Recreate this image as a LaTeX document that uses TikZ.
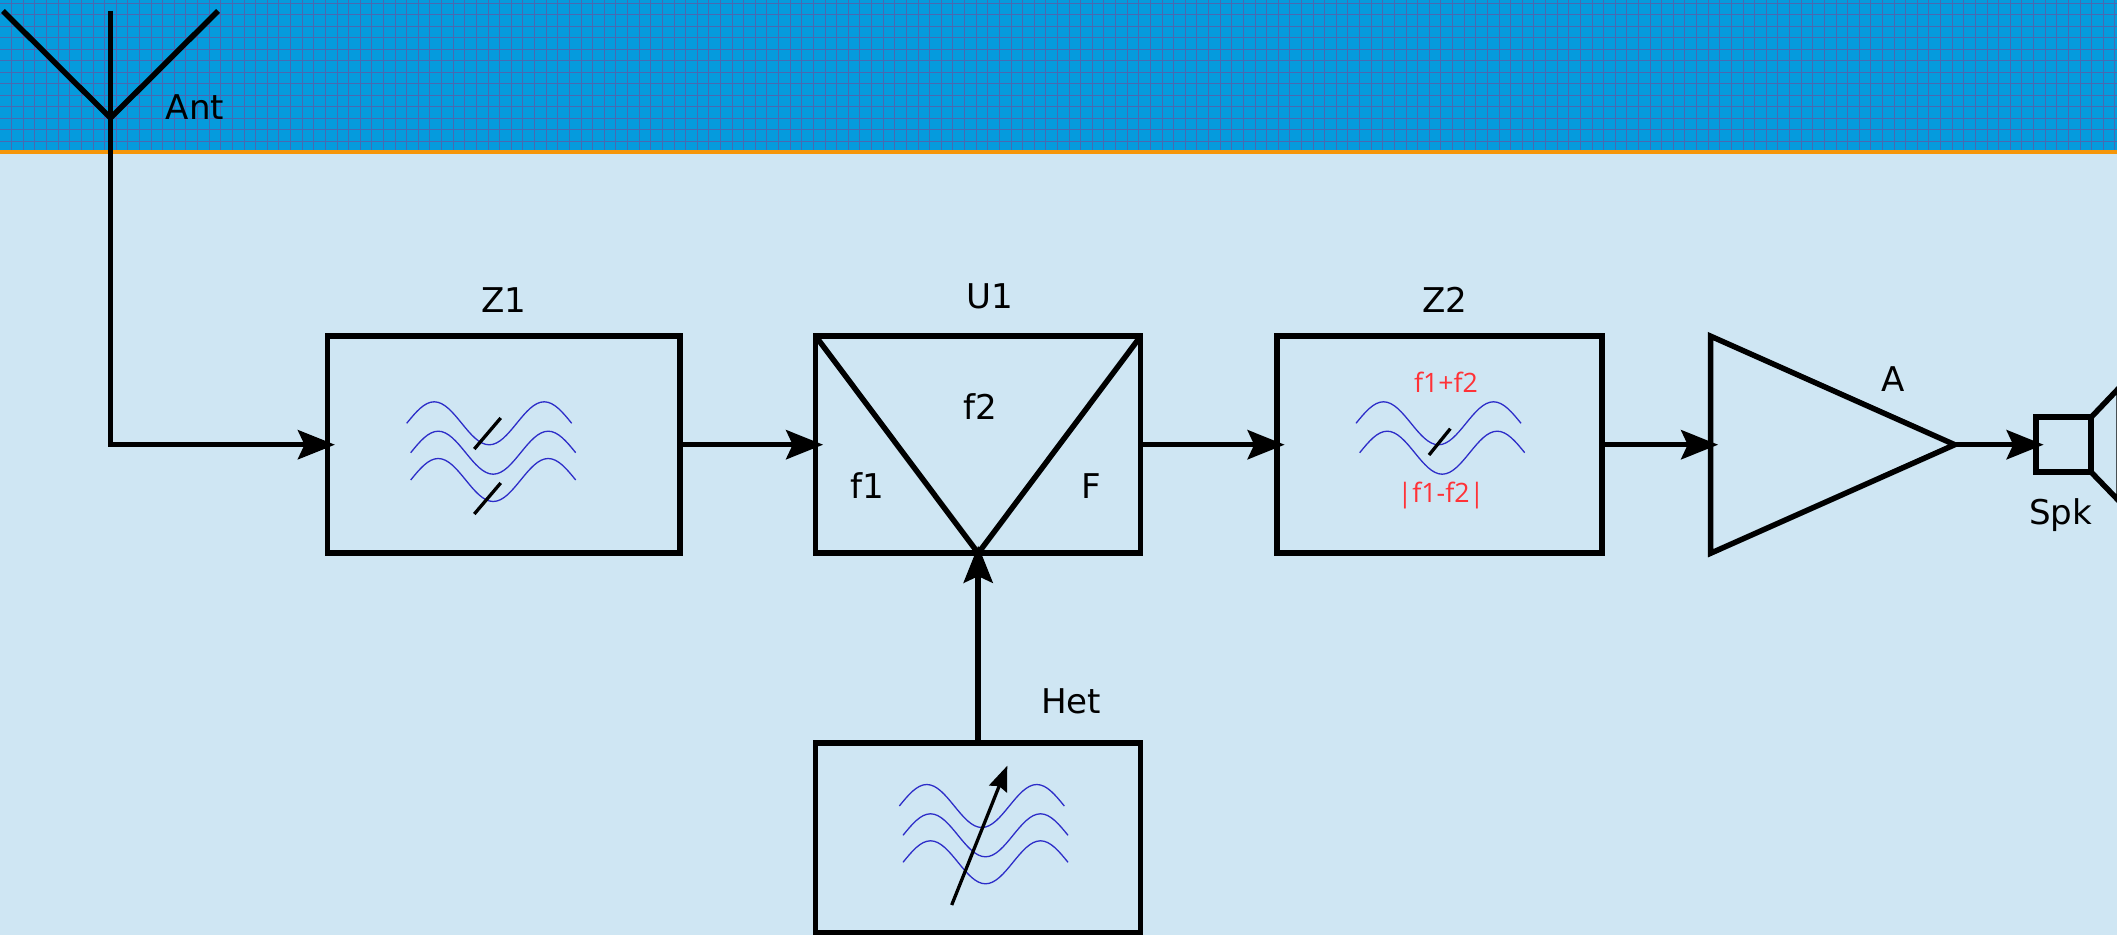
\documentclass[tikz,border=0pt]{standalone}
\usepackage{fontspec}
\setmainfont{DejaVu Sans}
\newfontfamily\redfont{Open Sans}
\usetikzlibrary{arrows.meta,positioning,shapes.geometric}
\definecolor{mysky}{RGB}{207,230,243}
\definecolor{myband}{RGB}{5,155,221}
\definecolor{mygrid}{RGB}{72,105,178}
\definecolor{myorange}{RGB}{245,150,10}
\definecolor{mywave}{RGB}{45,45,200}
\definecolor{myred}{RGB}{255,50,55}

\begin{document}
\begin{tikzpicture}[x=0.1mm,y=-0.1mm,font=\fontsize{9.7pt}{11pt}\selectfont,
  wire/.style={line width=0.55mm},
  flow/.style={wire,-{Stealth[length=3.7mm,width=2.9mm,inset=0.65mm]},shorten >=-0.75mm},
  block/.style={draw,line width=0.55mm,inner sep=0pt,outer sep=0pt,minimum width=3.25cm,minimum height=2.17cm},
  amp/.style={draw,line width=0.55mm,isosceles triangle,isosceles triangle stretches,inner sep=0pt,outer sep=0pt,minimum width=2.17cm,minimum height=2.44cm},
  lbl/.style={inner sep=0pt,outer sep=0pt},
  redlbl/.style={lbl,text=myred,font=\redfont\fontsize{7.6pt}{9pt}\selectfont},
  slash/.style={line width=0.33mm},
  wavepen/.style={draw=mywave,line width=0.13mm},
  sinewave/.pic={\draw[wavepen] (0,0) sin (27.5,-21.5) cos (55,0) sin (82.5,21.5) cos (110,0) sin (137.5,-21.5) cos (165,0);}]

  \useasboundingbox (0,0) rectangle (2117,935);
  \fill[mysky] (0,0) rectangle (2117,935);

  % band with its grid
  \fill[myband] (0,0) rectangle (2117,150);
  \foreach \gx in {1,...,182} \draw[mygrid,line width=0.1mm] (\gx*11.62+0.05,0) -- (\gx*11.62+0.05,150);
  \foreach \gy in {0,...,12} \draw[mygrid,line width=0.1mm] (0,\gy*11.53+3.1) -- (2117,\gy*11.53+3.1);
  \fill[myorange] (0,150) rectangle (2117,154);

  \node[block,minimum width=3.525cm] (Z1) at (503.75,444.7) {};
  \node[block,right=1.357cm of Z1] (U1) {};
  \node[block,right=1.365cm of U1] (Z2) {};
  \node[amp,right=1.085cm of Z2] (A) {};
  \node[draw,line width=0.55mm,inner sep=0pt,outer sep=0pt,minimum size=0.55cm,right=0.815cm of A] (Spk) {};
  \node[block,below=1.9cm of U1,minimum height=1.9cm] (Het) {};

  \coordinate (anttop) at (110.5,11);
  \coordinate (antfoot) at (110.5,118);
  \coordinate (antleft) at (3,11);
  \coordinate (antright) at (218,11);
  \coordinate (hornup) at (2119,388);
  \coordinate (horndown) at (2119,501);

  \node[lbl,above=2.4mm of Z1] (lblZ1) {Z1};
  \node[lbl,above=2.7mm of U1,xshift=1.2mm] (lblU1) {U1};
  \node[lbl,above=2.4mm of Z2,xshift=0.5mm] (lblZ2) {Z2};
  \node[lbl] (lblA) at (1893,379) {A};
  \node[lbl,below=2.6mm of Spk,xshift=-0.3mm] (lblSpk) {Spk};
  \node[lbl,above=2.9mm of Het,xshift=0.93cm] (lblHet) {Het};
  \node[lbl] (lblAnt) at (195,107) {Ant};
  \node[lbl] (lblf2) at (980,407) {f2};
  \node[lbl] (lblf1) at (867,486) {f1};
  \node[lbl] (lblF) at (1091,486) {F};
  \node[redlbl] (lblsum) at (1446,382) {f1+f2};
  \node[redlbl] (lbldiff) at (1441,496) {|f1-f2|};

  % mixer and aerial strokes
  \draw[wire] (U1.north west) -- (U1.south) -- (U1.north east);
  \draw[wire] (antleft) -- (antfoot) -- (antright);

  % horn of the speaker
  \draw[wire] (Spk.north east) -- (hornup) -- (horndown) -- (Spk.south east);

  \draw[flow] (anttop) |- (Z1.west);
  \draw[flow] (Z1) -- (U1);
  \draw[flow] (U1) -- (Z2);
  \draw[flow] (Z2) -- (A.lower side);
  \draw[flow] (A.apex) -- (Spk);
  \draw[flow] (Het) -- (U1);

  % waves
  \pic at (406.7,423.3) {sinewave};
  \pic at (410.7,452.7) {sinewave};
  \pic at (410.7,480) {sinewave};
  \pic at (1356,423.3) {sinewave};
  \pic at (1359.7,452.7) {sinewave};
  \pic at (899.3,806) {sinewave};
  \pic at (903,835.3) {sinewave};
  \pic at (903,862.3) {sinewave};

  \draw[slash] (474.3,449) -- (500.7,418);
  \draw[slash] (474.3,514) -- (500.7,483);
  \draw[slash] (1429,455) -- (1450.3,428.7);
  \draw[slash,-{Stealth[length=2.5mm,width=1.9mm,inset=0.3mm]}] (951.7,905) -- (1007.3,765.7);

\end{tikzpicture}
\end{document}
